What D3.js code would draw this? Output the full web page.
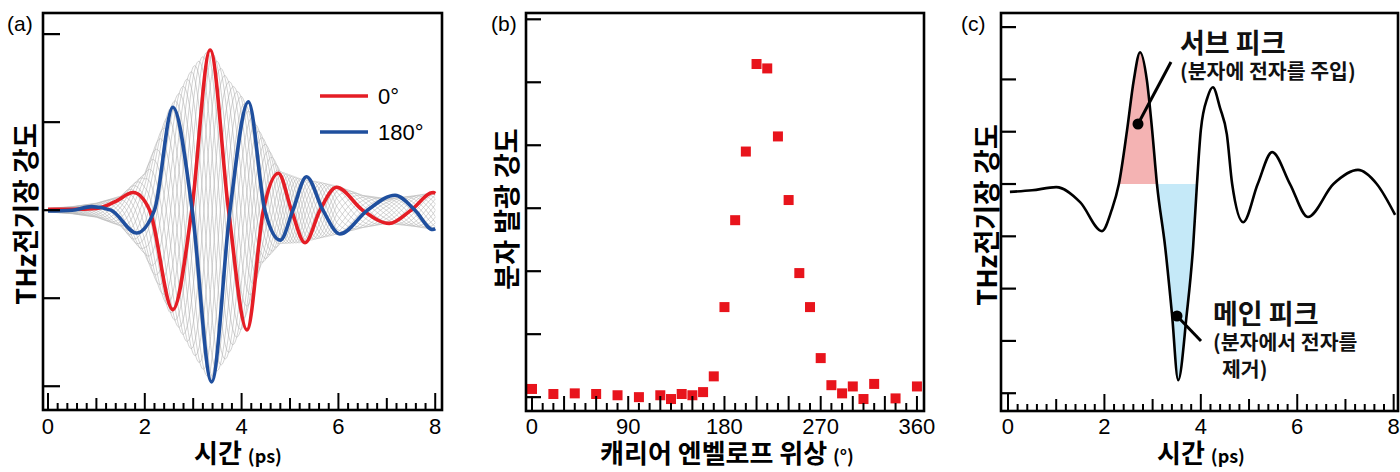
<!DOCTYPE html>
<html><head><meta charset="utf-8">
<script src="https://cdn.jsdelivr.net/npm/d3@7"></script>
<style>body{margin:0;background:#fff}</style>
</head><body>
<svg id="chart" width="1400" height="472"></svg>
<script>
// ---------------- DATA ----------------
// (a) THz waveforms, carrier-envelope phase 0° and 180° (time ps, field a.u.)
const wave0Times  = [0, 0.5, 1.0, 1.4, 1.76, 2.1, 2.58, 2.97, 3.35, 3.73, 4.11, 4.45, 4.76, 5.03, 5.31, 5.62, 5.96, 6.5, 7.05, 7.5, 7.96, 8.0];
const wave0Values = [0.01, 0.01, 0.02, 0.1, 0.2, 0, -1.13, 0, 1.82, 0, -1.36, 0, 0.42, 0, -0.37, 0, 0.26, 0, -0.15, 0, 0.2, 0.19];
const wave180Times  = [0, 0.5, 0.9, 1.3, 1.83, 2.2, 2.58, 2.98, 3.38, 3.76, 4.14, 4.48, 4.8, 5.06, 5.34, 5.68, 6.03, 6.6, 7.17, 7.58, 7.95, 8.0];
const wave180Values = [-0.01, 0.0, 0.04, 0, -0.26, 0, 1.17, 0, -1.95, 0, 1.23, 0, -0.34, 0, 0.38, 0, -0.27, 0, 0.17, 0, -0.22, -0.21];
const envTimes = [0, 0.5, 1.0, 1.5, 2.0, 2.5, 3.0, 3.35, 3.7, 4.0, 4.4, 4.8, 5.2, 5.6, 6.0, 6.5, 7.0, 7.5, 8.0];
const envUpper = [0.02, 0.04, 0.08, 0.16, 0.42, 1.14, 1.63, 1.84, 1.5, 1.3, 0.87, 0.44, 0.36, 0.32, 0.27, 0.17, 0.13, 0.16, 0.2];
const envLower = [0.02, 0.04, 0.08, 0.18, 0.5, 1.15, 1.63, 1.95, 1.67, 1.36, 0.62, 0.38, 0.37, 0.32, 0.27, 0.2, 0.15, 0.18, 0.22];
const carrierTimes = [0, 0.95, 1.76, 2.58, 3.35, 4.11, 4.76, 5.31, 5.96, 7.05, 7.96, 8.0];
const carrierPhasePi = [-2.2, -1, 0, 1, 2, 3, 4, 5, 6, 7, 8, 8.05];
const meshPhasesDeg = [0, 20, 40, 60, 80, 100, 120, 140, 160, 180, 200, 220, 240, 260, 280, 300, 320, 340];
const legendLabels = ["0°", "180°"];

// (b) molecular emission vs carrier-envelope phase
const cepDeg = [0, 20, 40, 60, 80, 100, 120, 130, 140, 150, 160, 170, 180, 190, 200, 210, 220, 230, 240, 250, 260, 270, 280, 290, 300, 310, 320, 340, 360];
const emission = [0.13, 0.05, 0.06, 0.05, 0.03, 0.0, 0.03, -0.03, 0.05, 0.03, 0.08, 0.33, 1.43, 2.81, 3.9, 5.29, 5.22, 4.14, 3.13, 1.97, 1.43, 0.62, 0.19, 0.06, 0.17, -0.03, 0.21, -0.02, 0.17];

// (c) single THz waveform
const pulseTimes  = [0.04, 0.5, 1.0, 1.5, 1.95, 2.15, 2.30, 2.47, 2.61, 2.74, 2.88, 2.99, 3.09, 3.26, 3.40, 3.53, 3.71, 3.84, 3.92, 4.0, 4.14, 4.25, 4.4, 4.54, 4.65, 4.88, 5.18, 5.48, 5.85, 6.22, 6.75, 7.26, 7.65, 8.03];
const pulseField  = [-0.15, -0.12, -0.06, -0.35, -0.9, -0.5, 0, 1.03, 1.99, 2.52, 1.99, 1.03, 0, -1.2, -2.47, -3.75, -2.47, -1.2, 0, 1.03, 1.66, 1.85, 1.45, 0.95, 0, -0.73, 0, 0.61, 0, -0.63, 0, 0.27, 0, -0.59];
const subPeakRange  = [2.30, 3.09];
const mainPeakRange = [3.09, 3.92];

const timeTicks = [0, 2, 4, 6, 8];
const phaseTicks = [0, 90, 180, 270, 360];
const fieldTicksA = [-2, -1, 0, 1, 2];
const emissionTicks = [0, 1, 2, 3, 4, 5, 6];
const fieldTicksC = [-4, -3, -2, -1, 0, 1, 2, 3];

// ---------------- DRAWING ----------------
const svg = d3.select("#chart");
const RED = "#e51d25", BLUE = "#1f4f9e", SQ = "#e8141c";
const NUM_FONT = "'Liberation Sans', Arial, sans-serif";
const KR_FONT = "'Noto Sans CJK KR', 'Noto Sans', sans-serif";

function frame(g, x0, y0, x1, y1) {
  g.append("rect").attr("x", x0).attr("y", y0).attr("width", x1 - x0).attr("height", y1 - y0)
    .attr("fill", "none").attr("stroke", "#000").attr("stroke-width", 2.6);
}
function clip(id, x0, y0, x1, y1) {
  svg.append("clipPath").attr("id", id).append("rect")
    .attr("x", x0).attr("y", y0).attr("width", x1 - x0).attr("height", y1 - y0);
}
function xTicks(g, x, vals, y1, lenFn) {
  g.selectAll(null).data(vals).enter().append("line")
    .attr("x1", d => x(d)).attr("x2", d => x(d))
    .attr("y1", y1).attr("y2", d => y1 - lenFn(d))
    .attr("stroke", "#000").attr("stroke-width", 2);
}
function yTicks(g, y, vals, x0, len) {
  g.selectAll(null).data(vals).enter().append("line")
    .attr("x1", x0).attr("x2", x0 + len)
    .attr("y1", d => y(d)).attr("y2", d => y(d))
    .attr("stroke", "#000").attr("stroke-width", 2.2);
}
function xLabels(g, x, vals, yb) {
  g.selectAll(null).data(vals).enter().append("text")
    .attr("x", d => x(d)).attr("y", yb).attr("text-anchor", "middle")
    .attr("font-family", NUM_FONT).attr("font-size", 22).text(d => d);
}
function yTitle(g, cx, cy, txt) {
  g.append("text").attr("transform", `translate(${cx},${cy}) rotate(-90)`)
    .attr("text-anchor", "middle").attr("dominant-baseline", "central")
    .attr("font-family", KR_FONT).attr("font-weight", 700).attr("font-size", 27).text(txt);
}
function xTitle(g, cx, yb, main, unit) {
  const t = g.append("text").attr("x", cx).attr("y", yb).attr("text-anchor", "middle")
    .attr("font-family", KR_FONT).attr("font-weight", 700).attr("font-size", 26);
  t.append("tspan").text(main + " ");
  t.append("tspan").attr("font-size", 18).text(unit);
}
function panelLabel(g, x, y, txt) {
  g.append("text").attr("x", x).attr("y", y).attr("font-family", NUM_FONT).attr("font-size", 21).text(txt);
}
const timeMinor = d3.range(0, 8.0001, 0.2).map(v => +v.toFixed(1));
const timeTickLen = d => (Math.abs(d % 2) < 1e-6 || Math.abs(d % 2 - 2) < 1e-6) ? 17 : (Math.abs(d % 1) < 1e-6 || Math.abs(d % 1 - 1) < 1e-6) ? 12 : 7;

// ===== Panel (a) =====
{
  const X0 = 43, Y0 = 13, X1 = 442, Y1 = 410;
  const x = d3.scaleLinear().domain([-0.103, 8.14]).range([X0, X1]);
  const y = d3.scaleLinear().domain([-2.27, 2.24]).range([Y1, Y0]);
  const g = svg.append("g");
  clip("clipA", X0, Y0, X1, Y1);
  const gc = g.append("g").attr("clip-path", "url(#clipA)");
  const envU = d3.scaleLinear().domain(envTimes).range(envUpper);
  const envL = d3.scaleLinear().domain(envTimes).range(envLower);
  const phase = d3.scaleLinear().domain(carrierTimes).range(carrierPhasePi);
  const sampleT = d3.range(0, 8.0001, 0.02);
  const line = d3.line().x(d => x(d[0])).y(d => y(d[1]));
  meshPhasesDeg.forEach(p => {
    const pts = sampleT.map(t => {
      const c = Math.cos(Math.PI * phase(t) + p * Math.PI / 180);
      return [t, c >= 0 ? envU(t) * c : envL(t) * c];
    });
    gc.append("path").attr("d", line(pts)).attr("fill", "none")
      .attr("stroke", "#b4b4b4").attr("stroke-width", 0.6);
  });
  const smooth = d3.line().x(d => x(d[0])).y(d => y(d[1])).curve(d3.curveMonotoneX);
  gc.append("path").attr("d", smooth(wave0Times.map((t, i) => [t, wave0Values[i]])))
    .attr("fill", "none").attr("stroke", RED).attr("stroke-width", 3.6);
  gc.append("path").attr("d", smooth(wave180Times.map((t, i) => [t, wave180Values[i]])))
    .attr("fill", "none").attr("stroke", BLUE).attr("stroke-width", 3.6);
  // legend
  [RED, BLUE].forEach((c, i) => {
    g.append("line").attr("x1", 320).attr("x2", 368).attr("y1", 96 + i * 36).attr("y2", 96 + i * 36)
      .attr("stroke", c).attr("stroke-width", 3.6);
    g.append("text").attr("x", 378).attr("y", 104 + i * 36).attr("font-family", NUM_FONT)
      .attr("font-size", 22).text(legendLabels[i]);
  });
  frame(g, X0, Y0, X1, Y1);
  xTicks(g, x, timeMinor, Y1, timeTickLen);
  yTicks(g, y, fieldTicksA, X0, 17);
  xLabels(g, x, timeTicks, 434);
  yTitle(g, 24, 214, "THz전기장 강도");
  xTitle(g, 238, 463, "시간", "(ps)");
  panelLabel(g, 7, 31, "(a)");
}

// ===== Panel (b) =====
{
  const X0 = 526, Y0 = 13, X1 = 924, Y1 = 411;
  const x = d3.scaleLinear().domain([-5.6, 366.6]).range([X0, X1]);
  const y = d3.scaleLinear().domain([-0.22, 6.1]).range([Y1, Y0]);
  const g = svg.append("g");
  g.selectAll(null).data(cepDeg).enter().append("rect")
    .attr("x", d => x(d) - 5).attr("y", (d, i) => y(emission[i]) - 5)
    .attr("width", 10).attr("height", 10).attr("fill", SQ);
  frame(g, X0, Y0, X1, Y1);
  xTicks(g, x, d3.range(0, 360.1, 10), Y1, d => d % 30 === 0 ? 15 : 8);
  yTicks(g, y, emissionTicks, X0, 15);
  xLabels(g, x, phaseTicks, 434);
  yTitle(g, 505, 209, "분자 발광 강도");
  xTitle(g, 727, 463, "캐리어 엔벨로프 위상", "(°)");
  panelLabel(g, 491, 31, "(b)");
}

// ===== Panel (c) =====
{
  const X0 = 1001, Y0 = 13, X1 = 1398, Y1 = 411;
  const x = d3.scaleLinear().domain([-0.145, 8.09]).range([X0, X1]);
  const y = d3.scaleLinear().domain([-4.34, 3.27]).range([Y1, Y0]);
  const g = svg.append("g");
  const pts = pulseTimes.map((t, i) => [t, pulseField[i]]);
  clip("clipSub", x(subPeakRange[0]), Y0, x(subPeakRange[1]), Y1);
  clip("clipMain", x(mainPeakRange[0]), Y0, x(mainPeakRange[1]), Y1);
  const area = d3.area().x(d => x(d[0])).y0(y(0)).y1(d => y(d[1])).curve(d3.curveMonotoneX);
  g.append("path").attr("d", area(pts)).attr("fill", "#f4b3b3").attr("clip-path", "url(#clipSub)");
  g.append("path").attr("d", area(pts)).attr("fill", "#c5e9f8").attr("clip-path", "url(#clipMain)");
  const smooth = d3.line().x(d => x(d[0])).y(d => y(d[1])).curve(d3.curveMonotoneX);
  g.append("path").attr("d", smooth(pts)).attr("fill", "none").attr("stroke", "#000").attr("stroke-width", 2.6);
  // annotations
  g.append("line").attr("x1", 1138).attr("y1", 124).attr("x2", 1171).attr("y2", 62).attr("stroke", "#000").attr("stroke-width", 3);
  g.append("circle").attr("cx", 1138).attr("cy", 124).attr("r", 5.5).attr("fill", "#000");
  g.append("line").attr("x1", 1177).attr("y1", 316).attr("x2", 1201).attr("y2", 341).attr("stroke", "#000").attr("stroke-width", 3);
  g.append("circle").attr("cx", 1177).attr("cy", 316).attr("r", 5.5).attr("fill", "#000");
  const ann = (xx, yy, size, txt) => g.append("text").attr("x", xx).attr("y", yy)
    .attr("font-family", KR_FONT).attr("font-weight", 700).attr("font-size", size).attr("fill", "#111").text(txt);
  ann(1180, 53, 27, "서브 피크");
  ann(1180, 79, 20.5, "(분자에 전자를 주입)");
  ann(1213, 324, 27, "메인 피크");
  ann(1213, 350, 20.5, "(분자에서 전자를");
  ann(1222, 377, 20.5, "제거)");
  frame(g, X0, Y0, X1, Y1);
  xTicks(g, x, timeMinor, Y1, timeTickLen);
  yTicks(g, y, fieldTicksC, X0, 15);
  xLabels(g, x, timeTicks, 434);
  yTitle(g, 985, 215, "THz전기장 강도");
  xTitle(g, 1201, 463, "시간", "(ps)");
  panelLabel(g, 961, 31, "(c)");
}
</script>
</body></html>
